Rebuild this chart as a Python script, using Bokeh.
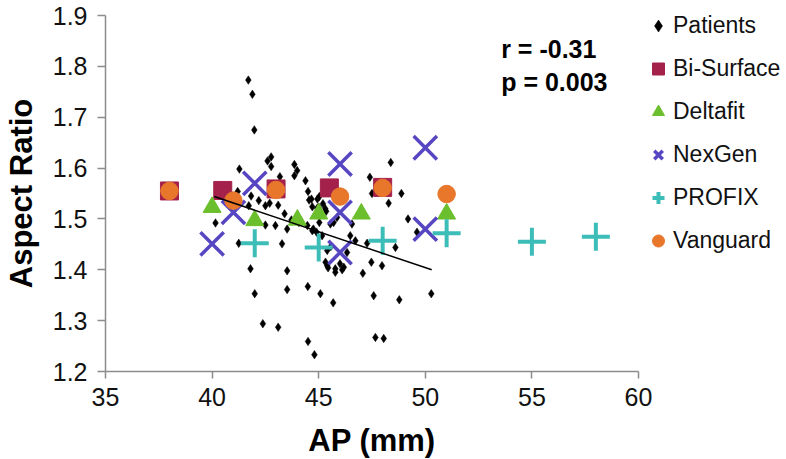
import numpy as np
from bokeh.plotting import figure
from bokeh.models import Range1d, Label, Legend, LegendItem, FixedTicker, PrintfTickFormatter
from bokeh.embed import file_html
from bokeh.resources import INLINE

# ---- data ----
patients_x = [41.70, 41.89, 41.98, 41.28, 42.60, 42.77, 42.77, 43.18, 43.86, 43.99,
              43.86, 44.38, 44.50, 44.66, 44.94, 48.38, 47.40, 48.88, 47.50, 40.16,
              41.25, 41.80, 42.00, 42.38, 43.10, 43.28, 43.52, 43.52, 44.49, 45.08,
              44.50, 44.80, 45.68, 41.83, 42.19, 42.50, 43.10, 43.40, 43.52, 42.97,
              44.07, 44.75, 45.55, 45.57, 45.40, 45.78, 46.00, 41.20, 42.70, 41.72,
              42.50, 44.47, 44.55, 44.70, 45.03, 44.93, 44.85, 45.03, 45.70, 45.86,
              46.56, 44.70, 44.90, 45.16, 46.48, 46.72, 47.27, 48.28, 49.19, 48.60,
              45.40, 45.32, 46.33, 45.44, 45.78, 46.10, 46.18, 47.07, 47.47, 47.97,
              49.61, 47.58, 48.78, 50.28, 47.66, 48.05, 45.20, 45.35, 43.72, 45.00,
              45.31]
patients_y = [1.773, 1.745, 1.675, 1.598, 1.614, 1.622, 1.603, 1.583, 1.607, 1.595,
              1.585, 1.575, 1.554, 1.539, 1.539, 1.611, 1.582, 1.550, 1.550, 1.492,
              1.452, 1.402, 1.353, 1.294, 1.287, 1.451, 1.398, 1.361, 1.367, 1.353,
              1.259, 1.233, 1.335, 1.545, 1.536, 1.526, 1.527, 1.510, 1.480, 1.487,
              1.493, 1.480, 1.490, 1.446, 1.408, 1.402, 1.412, 1.554, 1.531, 1.526,
              1.488, 1.487, 1.537, 1.524, 1.544, 1.521, 1.508, 1.493, 1.493, 1.503,
              1.490, 1.477, 1.474, 1.467, 1.467, 1.457, 1.452, 1.531, 1.500, 1.444,
              1.438, 1.415, 1.434, 1.404, 1.395, 1.400, 1.405, 1.393, 1.415, 1.408,
              1.474, 1.349, 1.341, 1.353, 1.267, 1.265, 1.530, 1.515, 1.498, 1.523,
              1.520]

bisurface_x = [38, 40.5, 43, 45.5, 48]
bisurface_y = [1.555, 1.556, 1.559, 1.561, 1.562]

deltafit_x = [40, 42, 44, 45, 47, 51]
deltafit_y = [1.523, 1.497, 1.498, 1.510, 1.510, 1.510]

nexgen_x = [40, 41, 42, 46, 46, 46, 50, 50]
nexgen_y = [1.451, 1.513, 1.570, 1.608, 1.513, 1.434, 1.640, 1.480]

profix_x = [42, 45, 48, 51, 55, 58]
profix_y = [1.452, 1.444, 1.457, 1.472, 1.455, 1.465]

vanguard_x = [38, 41, 43, 46, 48, 51]
vanguard_y = [1.555, 1.536, 1.557, 1.544, 1.561, 1.549]

trend_x = [40.1, 50.3]
trend_y = [1.544, 1.400]

x_ticks = [35, 40, 45, 50, 55, 60]
y_ticks = [1.2, 1.3, 1.4, 1.5, 1.6, 1.7, 1.8, 1.9]

stats_lines = ["r = -0.31", "p = 0.003"]

FONT = "Liberation Sans"

p = figure(frame_width=533, frame_height=356,
           x_range=Range1d(35, 60), y_range=Range1d(1.2, 1.9),
           output_backend="svg", toolbar_location=None,
           min_border_left=103, min_border_right=142,
           min_border_top=15, min_border_bottom=85)
p.outline_line_color = None
p.xgrid.grid_line_color = None
p.ygrid.grid_line_color = None
p.background_fill_color = "white"
p.border_fill_color = "white"

for ax in (p.xaxis, p.yaxis):
    ax.axis_line_color = "#8c8c8c"
    ax.axis_line_width = 1.5
    ax.major_tick_line_color = "#8c8c8c"
    ax.major_tick_line_width = 1.5
    ax.major_tick_in = 0
    ax.minor_tick_line_color = None
    ax.major_label_text_font = FONT
    ax.major_label_text_font_size = "25px"
    ax.major_label_text_color = "#111111"
    ax.axis_label_text_font = FONT
    ax.axis_label_text_font_style = "bold"
    ax.axis_label_text_font_size = "31px"
    ax.axis_label_text_color = "#000000"

p.xaxis.ticker = FixedTicker(ticks=x_ticks)
p.yaxis.ticker = FixedTicker(ticks=y_ticks)
p.xaxis.formatter = PrintfTickFormatter(format="%d")
p.yaxis.formatter = PrintfTickFormatter(format="%.1f")
p.xaxis.major_tick_out = 7
p.yaxis.major_tick_out = 8
p.xaxis.major_label_standoff = 9
p.yaxis.major_label_standoff = 10
p.xaxis.axis_label = "AP (mm)"
p.yaxis.axis_label = "Aspect Ratio"
p.xaxis.axis_label_standoff = 14
p.yaxis.axis_label_standoff = 11

r_pat = p.scatter(patients_x, patients_y, marker="diamond", size=8.5,
                  fill_color="black", line_color="black", line_width=0.5)
r_bi = p.scatter(bisurface_x, bisurface_y, marker="square", size=18,
                 fill_color="#A3214A", line_color="#A3214A")
r_de = p.scatter(deltafit_x, deltafit_y, marker="triangle", size=18,
                 fill_color="#6CBF2C", line_color="#6CBF2C")
r_nx = p.scatter(nexgen_x, nexgen_y, marker="x", size=33,
                 line_color="#5746C2", line_width=3.5)
r_pf = p.scatter(profix_x, profix_y, marker="cross", size=28,
                 line_color="#3DBDB8", line_width=4)
r_va = p.scatter(vanguard_x, vanguard_y, marker="circle", size=17.5,
                 fill_color="#E8762B", line_color="#E8762B")
p.line(trend_x, trend_y, line_color="black", line_width=1.5)

p.add_layout(Label(x=53.56, y=1.835, text=stats_lines[0], text_font=FONT,
                   text_baseline="alphabetic",
                   text_font_style="bold", text_font_size="25px", text_color="black"))
p.add_layout(Label(x=53.56, y=1.770, text=stats_lines[1], text_font=FONT,
                   text_baseline="alphabetic",
                   text_font_style="bold", text_font_size="25px", text_color="black"))

legend = Legend(items=[
    LegendItem(label="Patients", renderers=[r_pat]),
    LegendItem(label="Bi-Surface", renderers=[r_bi]),
    LegendItem(label="Deltafit", renderers=[r_de]),
    LegendItem(label="NexGen", renderers=[r_nx]),
    LegendItem(label="PROFIX", renderers=[r_pf]),
    LegendItem(label="Vanguard", renderers=[r_va]),
], location=(5, 113))
legend.glyph_width = 30
legend.glyph_height = 35
legend.label_height = 35
legend.spacing = 8
legend.padding = 0
legend.margin = 0
legend.label_standoff = 0
legend.border_line_color = None
legend.background_fill_alpha = 0
legend.label_text_font = FONT
legend.label_text_font_size = "23px"
legend.label_text_color = "#111111"
p.add_layout(legend, "right")

open("out.html", "w").write(file_html(p, INLINE))
